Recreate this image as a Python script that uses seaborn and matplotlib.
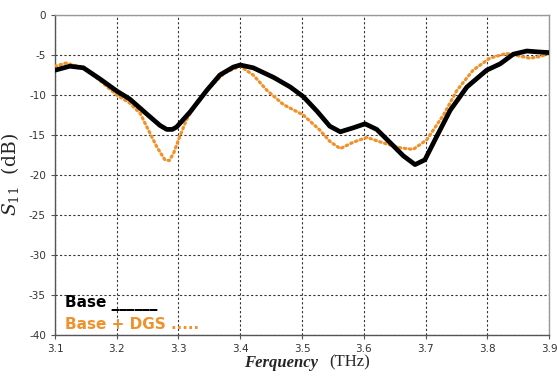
import pandas as pd
import matplotlib.pyplot as plt
import seaborn as sns

# S11 readings (dB) vs frequency (THz)
freq_base = [3.100, 3.124, 3.146, 3.173, 3.200, 3.221, 3.249, 3.270, 3.281, 3.290,
             3.297, 3.319, 3.346, 3.367, 3.389, 3.400, 3.421, 3.454, 3.481, 3.502,
             3.524, 3.545, 3.562, 3.583, 3.602, 3.621, 3.642, 3.664, 3.683, 3.699,
             3.718, 3.740, 3.767, 3.799, 3.821, 3.842, 3.864, 3.880, 3.900]
s11_base = [-6.9, -6.4, -6.6, -8.0, -9.5, -10.5, -12.4, -13.8, -14.3, -14.3,
            -14.0, -12.1, -9.4, -7.5, -6.5, -6.25, -6.6, -7.8, -9.0, -10.2,
            -12.0, -13.9, -14.6, -14.1, -13.6, -14.3, -15.9, -17.6, -18.7, -18.1,
            -15.2, -11.9, -9.0, -6.9, -6.1, -4.9, -4.5, -4.6, -4.7]

freq_dgs = [3.100, 3.118, 3.146, 3.173, 3.200, 3.221, 3.238, 3.254, 3.265, 3.278,
            3.285, 3.292, 3.302, 3.313, 3.329, 3.351, 3.375, 3.400, 3.421, 3.443,
            3.470, 3.502, 3.529, 3.545, 3.562, 3.583, 3.605, 3.632, 3.659, 3.680,
            3.702, 3.729, 3.751, 3.777, 3.804, 3.831, 3.850, 3.869, 3.885, 3.900]
s11_dgs = [-6.4, -6.0, -6.6, -8.2, -10.0, -11.0, -12.3, -14.8, -16.5, -18.1,
           -18.2, -17.3, -15.2, -13.1, -11.0, -9.0, -7.2, -6.4, -7.5, -9.4,
           -11.2, -12.5, -14.4, -15.8, -16.7, -15.9, -15.3, -16.0, -16.6, -16.8,
           -15.6, -12.5, -9.4, -6.9, -5.4, -4.8, -5.1, -5.4, -5.2, -4.8]

x_ticks = [3.1, 3.2, 3.3, 3.4, 3.5, 3.6, 3.7, 3.8, 3.9]
y_ticks = [0, -5, -10, -15, -20, -25, -30, -35, -40]

df_base = pd.DataFrame({"f": freq_base, "s11": s11_base})
df_dgs = pd.DataFrame({"f": freq_dgs, "s11": s11_dgs})

orange = "#f0922b"

sns.set_style("white")
plt.rcParams["mathtext.fontset"] = "dejavuserif"

fig = plt.figure(figsize=(5.57, 3.79), dpi=100)
ax = fig.add_axes([0.0987, 0.1161, 0.887, 0.8443])

sns.lineplot(data=df_dgs, x="f", y="s11", ax=ax, color=orange, linewidth=2.3,
             linestyle=(0, (0.5, 1.1)), dash_capstyle="round", zorder=3)
sns.lineplot(data=df_base, x="f", y="s11", ax=ax, color="black", linewidth=3.4,
             solid_capstyle="round", solid_joinstyle="round", zorder=4)

ax.set_xlim(3.1, 3.9)
ax.set_ylim(-40, 0)
ax.set_xticks(x_ticks)
ax.set_yticks(y_ticks)
ax.set_xticklabels([f"{t:.1f}" for t in x_ticks])
ax.set_yticklabels([str(t) for t in y_ticks])
ax.grid(True, color="#333333", linestyle=(0, (2, 2)), linewidth=0.8)
ax.tick_params(axis="both", labelsize=7.5, labelcolor="#333333", direction="out",
               length=3, width=0.8, color="#555555", left=True, bottom=True)
for side in ["top", "right"]:
    ax.spines[side].set_color("#999999")
for side in ["left", "bottom"]:
    ax.spines[side].set_color("#555555")
for sp in ax.spines.values():
    sp.set_linewidth(1.0)

ax.set_xlabel("")
ax.set_ylabel(r"$S_{11}$  (dB)", fontsize=13.5, family="DejaVu Serif", labelpad=6)

# x label: bold italic word plus plain unit
fig.text(0.438, 0.022, "Ferquency", fontsize=12, family="Liberation Serif",
         fontweight="bold", style="italic", ha="left", va="bottom")
fig.text(0.592, 0.022, "(THz)", fontsize=12, family="Liberation Serif",
         ha="left", va="bottom")

# hand-drawn style legend
ax.text(3.116, -36.0, "Base ______", fontsize=11, family="DejaVu Sans",
        fontweight="bold", color="black", va="center")
ax.text(3.116, -38.7, "Base + DGS .....", fontsize=11, family="DejaVu Sans",
        fontweight="bold", color=orange, va="center")

plt.savefig("out.png", dpi=100)
